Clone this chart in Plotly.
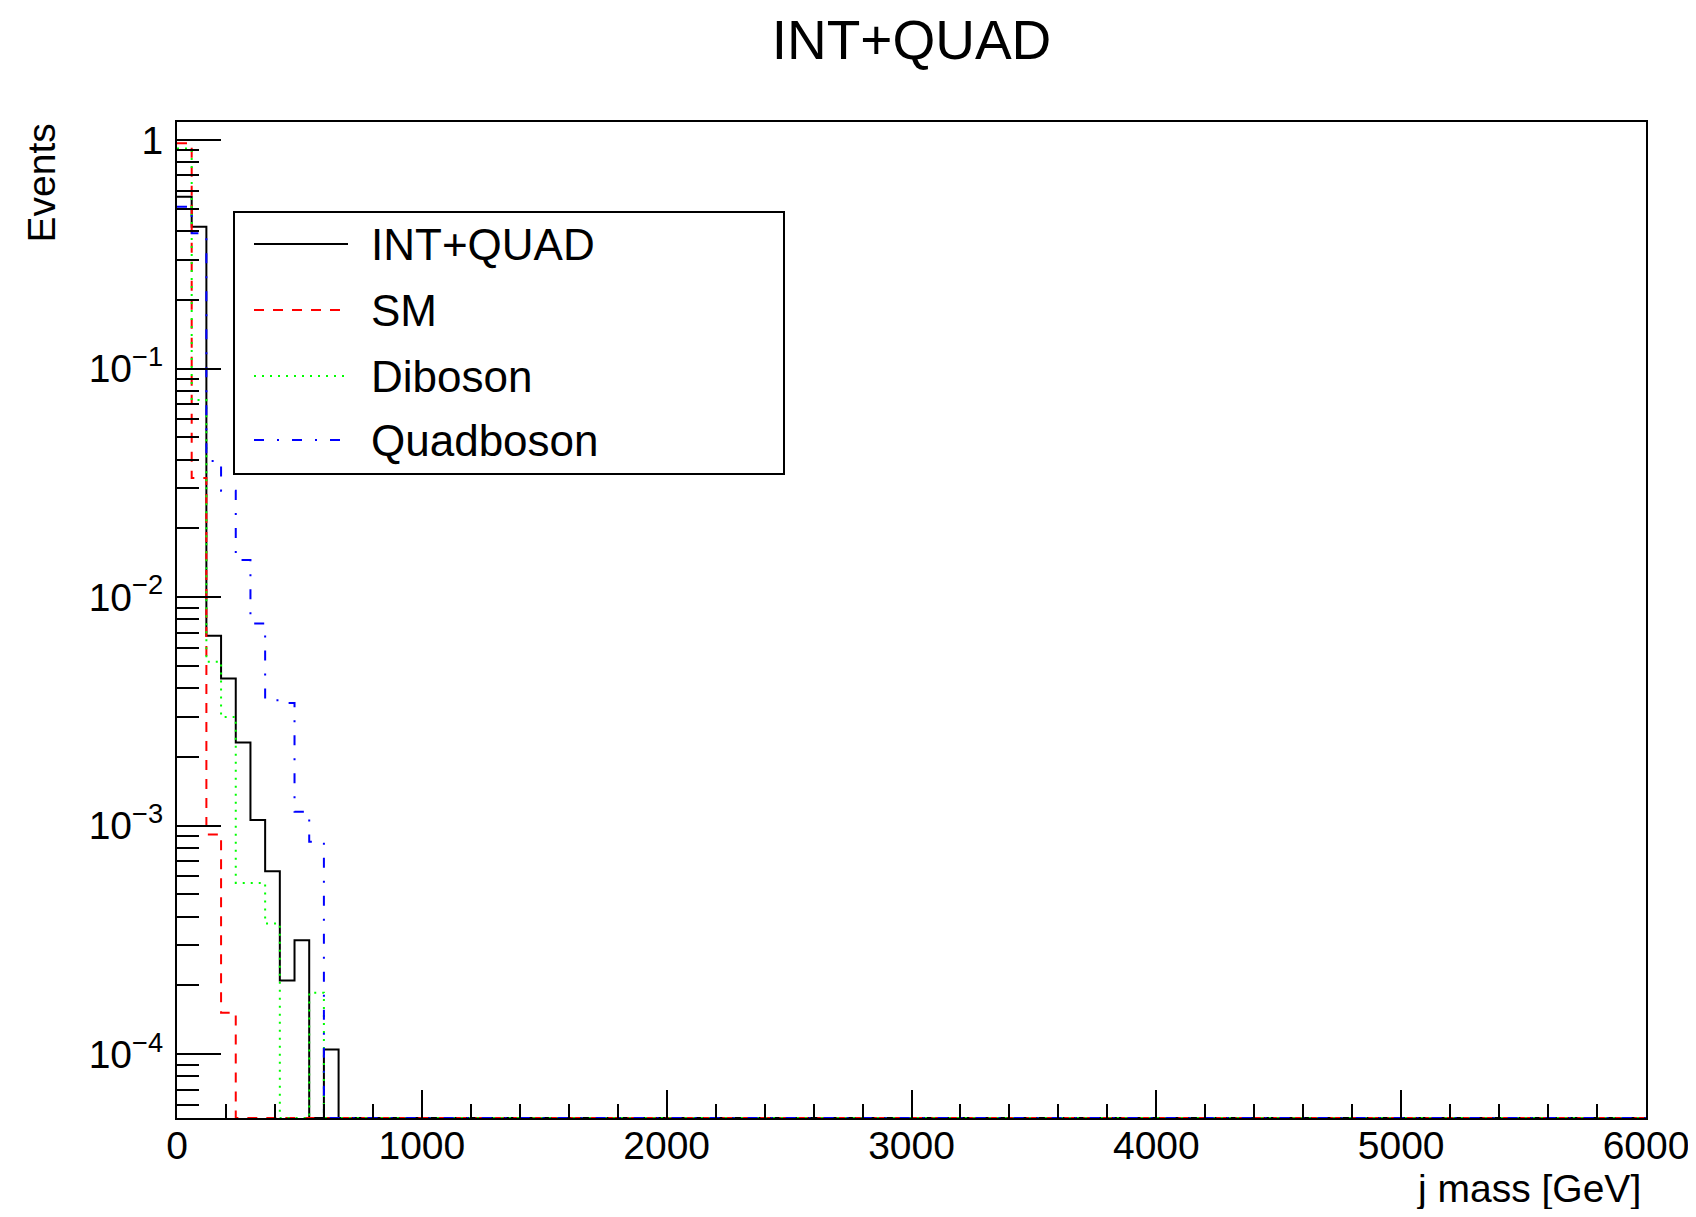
import numpy as np
import plotly.graph_objects as go

# ---- data (normalised histograms, 100 bins of 60 GeV over 0-6000 GeV) ----
n_bins = 100
x_min, x_max = 0.0, 6000.0

int_quad_vals = [0.564, 0.417, 0.00677, 0.00441, 0.00231, 0.00106, 0.000632,
                 0.000210, 0.000315, 0.0, 0.000105]
sm_vals = [0.967, 0.0332, 0.000915, 0.000152]
diboson_vals = [0.917, 0.0728, 0.00521, 0.00299, 0.000562, 0.000562,
                0.000373, 0.0, 0.0, 0.000186]
quadboson_vals = [0.511, 0.391, 0.0394, 0.0292, 0.01452, 0.00767, 0.00354,
                  0.00344, 0.00115, 0.000850]

series_names = ["INT+QUAD", "SM", "Diboson", "Quadboson"]
series_vals = [int_quad_vals, sm_vals, diboson_vals, quadboson_vals]

x_tick_vals = [0, 1000, 2000, 3000, 4000, 5000, 6000]
x_tick_text = ["0", "1000", "2000", "3000", "4000", "5000", "6000"]
y_tick_vals = [1e-4, 1e-3, 1e-2, 1e-1, 1]
y_tick_text = ["10<sup>\u22124</sup>", "10<sup>\u22123</sup>", "10<sup>\u22122</sup>",
               "10<sup>\u22121</sup>", "1"]

# ---- styles ----
colors = ["#000000", "#ff0000", "#00ff00", "#0000ff"]
dashes = ["solid", "10px,9px", "2px,6px", "10px,13px,2px,13px"]
FONT = "Liberation Sans, Arial, Helvetica, sans-serif"

OFF = 8  # page body margin
W, H = 1696 - 2 * OFF, 1217 - 2 * OFF
plot_left, plot_right, plot_top, plot_bottom = 177, 1646, 122, 1117.7  # page pixels
L = plot_left - OFF
T = plot_top - OFF
R = W - (plot_right - OFF)
B = H - (plot_bottom - OFF)
y_log_range = [-4.279, 0.0788]
y_floor = 10 ** y_log_range[0]

edges = np.linspace(x_min, x_max, n_bins + 1)

fig = go.Figure()
for name, vals, c, d in zip(series_names, series_vals, colors, dashes):
    full = np.zeros(n_bins)
    full[:len(vals)] = vals
    plot_y = np.where(full > 0, full, y_floor)
    plot_y = np.append(plot_y, plot_y[-1])
    fig.add_trace(go.Scatter(
        x=edges, y=plot_y, mode="lines", name=name,
        line=dict(color=c, width=2, dash=d, shape="hv"),
        showlegend=False, hoverinfo="skip"))

# minor tick values for the log axis
minor_y = []
for dec in range(-5, 1):
    for k in range(2, 10):
        v = k * 10.0 ** dec
        if y_log_range[0] < np.log10(v) < y_log_range[1]:
            minor_y.append(v)

fig.update_layout(
    width=W, height=H, autosize=False,
    margin=dict(l=L, r=R, t=T, b=B, pad=0, autoexpand=False),
    paper_bgcolor="white", plot_bgcolor="white",
    font=dict(family=FONT, color="black", size=39),
    showlegend=False,
    title=dict(text="INT+QUAD", x=0.5, xref="paper", xanchor="center",
               y=1 - (40 - OFF) / H, yanchor="middle", font=dict(size=55)),
)
fig.update_xaxes(
    range=[x_min, x_max], showgrid=False, zeroline=False, automargin=False,
    showline=True, linecolor="black", linewidth=2, mirror=True,
    ticks="inside", ticklen=28, tickwidth=2, tickcolor="black",
    tickmode="array", tickvals=x_tick_vals, ticktext=x_tick_text,
    tickfont=dict(size=39), ticklabelstandoff=-8, ticklabeloverflow="allow",
    minor=dict(ticks="inside", ticklen=14, tickwidth=2, tickcolor="black",
               dtick=200, showgrid=False),
)
fig.update_yaxes(
    type="log", range=y_log_range, showgrid=False, zeroline=False, automargin=False,
    showline=True, linecolor="black", linewidth=2, mirror=True,
    ticks="inside", ticklen=44, tickwidth=2, tickcolor="black",
    tickmode="array", tickvals=y_tick_vals, ticktext=y_tick_text,
    tickfont=dict(size=39), ticklabelstandoff=4, ticklabeloverflow="allow",
    minor=dict(ticks="inside", ticklen=22, tickwidth=2, tickcolor="black",
               tickmode="array", tickvals=minor_y, showgrid=False),
)

plot_w = plot_right - plot_left
plot_h = plot_bottom - plot_top


def px(xp):
    return (xp - plot_left) / plot_w


def py(yp):
    return (plot_bottom - yp) / plot_h


# axis titles
fig.add_annotation(text="j mass [GeV]", x=px(1643), y=py(1188), xref="paper", yref="paper",
                   xanchor="right", yanchor="middle", showarrow=False, font=dict(size=39))
fig.add_annotation(text="Events", x=px(41), y=py(122), xref="paper", yref="paper",
                   xanchor="center", yanchor="top", textangle=-90, showarrow=False,
                   font=dict(size=39))

# legend box (drawn manually to reproduce the long line samples)
fig.add_shape(type="rect", xref="paper", yref="paper",
              x0=px(234), x1=px(784), y0=py(474), y1=py(212),
              line=dict(color="black", width=2), fillcolor="white", layer="above")
legend_y = [244, 310, 376, 440]
for name, c, d, ly in zip(series_names, colors, dashes, legend_y):
    fig.add_shape(type="line", xref="paper", yref="paper",
                  x0=px(254), x1=px(348), y0=py(ly), y1=py(ly),
                  line=dict(color=c, width=2, dash=d), layer="above")
    fig.add_annotation(text=name, x=px(369), y=py(ly), xref="paper", yref="paper",
                       xanchor="left", yanchor="middle", showarrow=False,
                       font=dict(size=44))

fig.write_html("out.html")
